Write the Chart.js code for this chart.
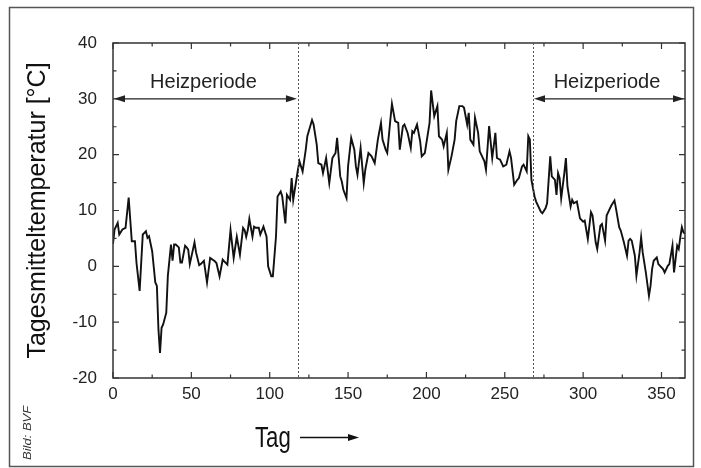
<!DOCTYPE html>
<html>
<head>
<meta charset="utf-8">
<script src="https://cdn.jsdelivr.net/npm/chart.js@4.4.0/dist/chart.umd.min.js"></script>
<style>
  html, body { margin: 0; padding: 0; background: #fff; }
  #wrap { position: relative; width: 701px; height: 468px; }
</style>
</head>
<body>
<div id="wrap"><canvas id="tempChart"></canvas></div>
<script>
// day of year and daily mean temperature
const days = [0,1,3,4,6,8,10,12,14,15,17,19,20,21,22,23,25,27,28,29,30,31,32,34,35,37,38,39,40,42,43,44,46,47,48,49,52,53,55,56,58,60,62,65,66,68,70,71,73,75,77,79,81,83,84,85,86,87,89,90,91,93,94,96,98,99,101,102,104,105,107,108,110,111,113,114,115,116,118,119,121,123,124,127,128,130,131,133,134,136,138,140,142,143,145,146,147,149,150,152,154,155,156,158,160,161,163,165,167,169,171,172,174,175,177,178,180,182,183,185,186,188,190,191,192,194,196,197,199,200,202,203,205,207,208,210,211,213,214,216,218,219,221,223,224,226,227,228,230,231,233,234,235,237,238,240,242,244,245,247,249,251,253,254,256,258,259,261,262,264,265,266,267,269,270,273,274,276,277,279,280,282,283,284,285,286,288,289,290,292,293,294,296,298,300,301,303,305,306,308,309,311,312,314,315,316,318,320,321,323,324,326,328,329,330,331,333,334,336,337,338,340,342,343,344,345,347,348,351,352,354,355,357,358,360,361,362,363,364,365];
const temps = [4,6.6,7.8,5.7,6.6,6.9,12.3,4.5,4.5,0.6,-4.4,5.7,6,6.3,5.1,5.4,2.7,-2.9,-3.5,-11.3,-15.5,-11,-10.4,-8.3,-1.7,3.9,1,3.9,3.9,3.4,0.7,0.7,3.7,3.4,3,0.4,4.3,2.5,0.2,0.4,1,-2.9,1.5,0.9,0.6,-1.8,1.2,0.9,0.3,6.5,1.5,5.3,2.1,6.9,6.5,5.3,6.5,8.5,5.3,7.1,6.9,6.9,5.7,7.1,5.3,0,-1.8,-1.8,5.3,12.5,13.4,12.5,7.7,12.8,11.9,15.8,11.9,13.7,17.3,18.8,17,20.9,23.3,26.2,25.4,21.8,18.5,18.2,16.7,19.4,14.9,19.4,20.3,23,16.1,15.2,13.7,12.2,17.9,23,20.9,17.9,16.4,21.2,14.9,17.3,20.3,19.7,18.5,22.7,25.7,22.7,20.9,20.3,26.3,29.1,26,25.7,20.9,25.1,25.4,23.9,21.2,24.2,23.9,25.4,22.4,19.7,20.3,22.1,25.7,31.5,26.9,28.7,23.3,22.7,21.5,23.9,17.3,19.7,22.7,26,28.7,28.7,28.4,25.4,27.5,22.7,21.8,26.6,23.9,20.6,20,18.8,17.3,25.1,19.4,23.9,19.4,19.1,17.9,18.2,20.6,19.4,14.6,15.5,15.8,17.9,18.2,17,23.3,22.7,15.5,12.5,11.6,9.8,9.5,10.4,11.3,19.7,16.1,15.5,12.8,16.7,15.8,12.2,16.7,19.4,14.3,10.7,11.9,11.3,11.6,8.6,8,8.2,4.9,9.7,9.1,4.3,3.1,7.3,7.6,4.6,9.1,9.7,10.9,11.8,10.3,7,6.4,4.3,1.9,4.6,4.9,4.6,1.9,-1.7,2.5,5.2,2.5,-1.1,-5.3,-3.5,-0.5,1,1.6,0.4,-0.5,-1.1,0.1,0.4,3.7,-1.1,3.7,3.1,5.2,7,6.1,5.8];

const xTicks = [0, 50, 100, 150, 200, 250, 300, 350];
const xMinorTicks = [25, 75, 125, 175, 225, 275, 325];
const yTicks = [-20, -10, 0, 10, 20, 30, 40];
const yMinorTicks = [-15, -5, 5, 15, 25, 35];

// heating period: up to day 118 and from day 268 on, marked at 30 °C
const heatingEnd = 118;
const heatingStart = 268;
const arrowLevel = 30;
const heatingLabel = 'Heizperiode';

const regular = '"Liberation Sans", Arial, sans-serif';

function arrowHead(ctx, x, y, dir) {
  ctx.beginPath();
  ctx.moveTo(x, y);
  ctx.lineTo(x - dir * 11, y - 3.5);
  ctx.lineTo(x - dir * 11, y + 3.5);
  ctx.closePath();
  ctx.fill();
}

const decorations = {
  id: 'decorations',
  beforeDraw(chart) {
    const ctx = chart.ctx;
    ctx.save();
    ctx.fillStyle = '#fff';
    ctx.fillRect(0, 0, chart.width, chart.height);
    ctx.strokeStyle = '#555';
    ctx.lineWidth = 1.5;
    ctx.strokeRect(9.5, 7.5, 684, 459);
    ctx.restore();
  },
  afterDatasetsDraw(chart) {
    const { ctx, chartArea: a, scales: { x, y } } = chart;
    ctx.save();

    // frame of the plot box
    ctx.strokeStyle = '#333';
    ctx.lineWidth = 1.5;
    ctx.strokeRect(a.left, a.top, a.right - a.left, a.bottom - a.top);

    // inward ticks on all four sides
    ctx.lineWidth = 1.2;
    ctx.beginPath();
    const xt = (v, len) => {
      const px = x.getPixelForValue(v);
      ctx.moveTo(px, a.bottom); ctx.lineTo(px, a.bottom - len);
      ctx.moveTo(px, a.top); ctx.lineTo(px, a.top + len);
    };
    const yt = (v, len) => {
      const py = y.getPixelForValue(v);
      ctx.moveTo(a.left, py); ctx.lineTo(a.left + len, py);
      ctx.moveTo(a.right, py); ctx.lineTo(a.right - len, py);
    };
    xTicks.forEach(v => xt(v, 6));
    xMinorTicks.forEach(v => xt(v, 3.5));
    yTicks.forEach(v => yt(v, 6));
    yMinorTicks.forEach(v => yt(v, 3.5));
    ctx.stroke();

    // dashed borders of the heating period
    ctx.strokeStyle = '#555';
    ctx.lineWidth = 1;
    ctx.setLineDash([2, 2]);
    [heatingEnd, heatingStart].forEach(d => {
      const px = Math.round(x.getPixelForValue(d)) + 0.5;
      ctx.beginPath();
      ctx.moveTo(px, a.top);
      ctx.lineTo(px, a.bottom);
      ctx.stroke();
    });
    ctx.setLineDash([]);

    // double arrows with labels
    const ay = y.getPixelForValue(arrowLevel);
    ctx.strokeStyle = '#222';
    ctx.fillStyle = '#222';
    ctx.lineWidth = 1.3;
    ctx.font = '20px ' + regular;
    ctx.textAlign = 'center';
    ctx.textBaseline = 'middle';
    [[x.min, heatingEnd], [heatingStart, x.max]].forEach(([d0, d1]) => {
      const x0 = x.getPixelForValue(d0) + 1;
      const x1 = x.getPixelForValue(d1) - 1;
      ctx.beginPath();
      ctx.moveTo(x0 + 6, ay);
      ctx.lineTo(x1 - 6, ay);
      ctx.stroke();
      arrowHead(ctx, x0, ay, -1);
      arrowHead(ctx, x1, ay, 1);
      ctx.fillText(heatingLabel, (x0 + x1) / 2 - 2, ay - 16);
    });

    // x axis title with arrow (condensed like the original)
    ctx.textAlign = 'left';
    ctx.textBaseline = 'alphabetic';
    ctx.fillStyle = '#111';
    ctx.strokeStyle = '#111';
    ctx.save();
    ctx.translate(255, 447);
    ctx.scale(0.74, 1);
    ctx.font = '30px ' + regular;
    ctx.fillText('Tag', 0, 0);
    ctx.restore();
    ctx.lineWidth = 1.3;
    ctx.beginPath();
    ctx.moveTo(300, 437.5);
    ctx.lineTo(350, 437.5);
    ctx.stroke();
    arrowHead(ctx, 359, 437.5, 1);

    // picture credit
    ctx.fillStyle = '#333';
    ctx.translate(31, 460);
    ctx.rotate(-Math.PI / 2);
    ctx.scale(1, 0.85);
    ctx.font = 'italic 13px ' + regular;
    ctx.fillText('Bild: BVF', 0, 0);
    ctx.restore();
  }
};

new Chart(document.getElementById('tempChart').getContext('2d'), {
  type: 'line',
  data: {
    datasets: [{
      label: 'Tagesmitteltemperatur',
      data: days.map((d, i) => ({ x: d, y: temps[i] })),
      borderColor: '#111',
      borderWidth: 1.9,
      pointRadius: 0,
      tension: 0,
      fill: false
    }]
  },
  options: {
    responsive: true,
    maintainAspectRatio: false,
    animation: false,
    layout: { padding: { left: 12, right: 16, top: 43, bottom: 8 } },
    plugins: { legend: { display: false }, title: { display: false }, tooltip: { enabled: false } },
    scales: {
      x: {
        type: 'linear',
        min: 0,
        max: 365,
        afterBuildTicks: s => { s.ticks = xTicks.map(v => ({ value: v })); },
        afterFit: s => { s.height = 82; },
        grid: { display: false },
        border: { display: false },
        ticks: { color: '#222', font: { family: regular, size: 17 }, padding: -2, maxRotation: 0 }
      },
      y: {
        min: -20,
        max: 40,
        afterBuildTicks: s => { s.ticks = yTicks.map(v => ({ value: v })); },
        afterFit: s => { s.width = 101; },
        grid: { display: false },
        border: { display: false },
        ticks: { color: '#222', font: { family: regular, size: 17 }, padding: 8 },
        title: {
          display: true,
          text: 'Tagesmitteltemperatur [°C]',
          color: '#111',
          font: { family: regular, size: 25 },
          padding: { top: 11, bottom: 0 }
        }
      }
    }
  },
  plugins: [decorations]
});
</script>
</body>
</html>
